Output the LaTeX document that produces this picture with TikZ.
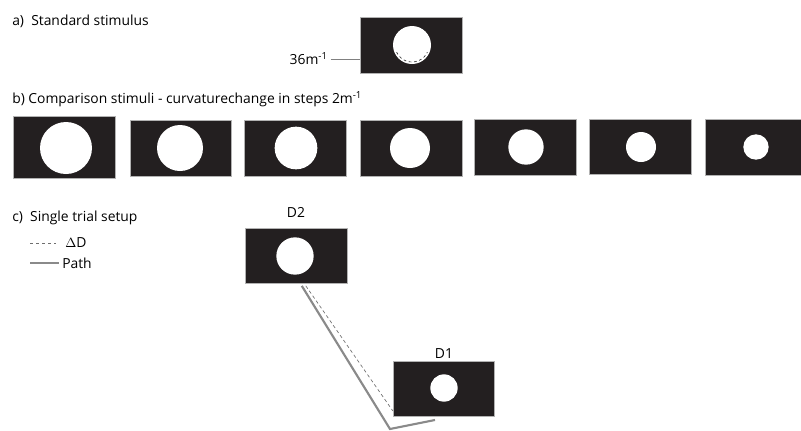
\documentclass[tikz,border=0pt]{standalone}
\usepackage{fontspec}
\setmainfont{Open Sans}
\definecolor{boxfill}{HTML}{231F20}
\definecolor{pathgrey}{HTML}{8A8A8A}
\begin{document}
\begin{tikzpicture}[x=0.75pt,y=-0.75pt,
  stim/.style={fill=boxfill,draw=black!30,line width=0.3pt},
  disc/.style={circle,fill=white,inner sep=0pt,draw=none},
  lbl/.style={inner sep=0pt,anchor=west,font=\fontsize{10.4}{12}\selectfont},
  clbl/.style={inner sep=0pt,font=\fontsize{10.4}{12}\selectfont},
  pathline/.style={draw=pathgrey,line width=1.6pt},
  dline/.style={draw=pathgrey!80!black,dashed,dash pattern=on 2.5pt off 2pt,line width=0.5pt}]
\useasboundingbox (0,0) rectangle (801,430);
\clip (0,0) rectangle (801,430);
% a
\node[lbl] (ta) at (12,21) {a)\ \ Standard stimulus};
\path[stim] (360,17) rectangle (462,73);
\node[minimum width=76.5pt,minimum height=42pt,inner sep=0pt] (sa) at (411,45) {};
\node[disc,minimum size=28.5pt] (ca) at (412,45) {};
\draw[black!80,dashed,dash pattern=on 2pt off 2pt,line width=0.5pt] (412,45) ++(155:17) arc (155:25:17);
\node[clbl,anchor=east] (l36) at (328,59) {36m\textsuperscript{-1}};
\draw[gray,line width=0.5pt] (l36.east) ++(2pt,0) -- (sa.west |- l36.east);
% b
\node[lbl] (tb) at (12,99) {b) Comparison stimuli - curvaturechange in steps 2m\textsuperscript{-1}};
\path[stim] (13,116) rectangle (115,178);
\node[disc,minimum size=39pt] (c1) at (66,148) {};
\path[stim] (130,120) rectangle (231,176);
\node[disc,minimum size=34.5pt] (c2) at (180,148) {};
\path[stim] (244,120) rectangle (346,176);
\node[disc,minimum size=32pt] (c3) at (296,148) {};
\path[stim] (360,120) rectangle (462,176);
\node[disc,minimum size=30pt] (c4) at (410,148) {};
\path[stim] (474,119) rectangle (576,175);
\node[disc,minimum size=26.5pt] (c5) at (526,147) {};
\path[stim] (589,119) rectangle (691,174);
\node[disc,minimum size=22.5pt] (c6) at (641,147) {};
\path[stim] (705,119) rectangle (806,175);
\node[disc,minimum size=19pt] (c7) at (756,147) {};
% c
\node[lbl] (tc) at (12,218) {c)\ \ Single trial setup};
\coordinate (lg1a) at (30,243);
\coordinate (lg1b) at (56,243);
\draw[dline] (lg1a) -- (lg1b);
\node[lbl] (tdd) at (65,243) {$\Delta$D};
\coordinate (lg2a) at (30,263);
\coordinate (lg2b) at (59,263);
\draw[pathline] (lg2a) -- (lg2b);
\node[lbl] (tpath) at (62,263) {Path};
% D2
\node[minimum width=76.5pt,minimum height=41.25pt,inner sep=0pt,fill=boxfill,draw=black!30,line width=0.3pt] (d2) at (296,255.5) {};
\node[disc,minimum size=28pt] (cd2) at (295,256) {};
\node[clbl] (td2) at (296,212) {D2};
% D1
\node[minimum width=75.75pt,minimum height=41.25pt,inner sep=0pt,fill=boxfill,draw=black!30,line width=0.3pt] (d1) at (443.5,388.5) {};
\node[disc,minimum size=20.5pt] (cd1) at (444,388) {};
\node[clbl] (td1) at (444,354) {D1};
% path and delta D
\coordinate (pturn) at (390,429);
\coordinate (pend) at (435,420);
\draw[pathline] ([xshift=42.75pt,yshift=-2pt]d2.south west) -- (pturn) -- (pend);
\draw[dline] ([xshift=45.75pt,yshift=-2pt]d2.south west) -- ([yshift=4pt]d1.south west);
\end{tikzpicture}
\end{document}
